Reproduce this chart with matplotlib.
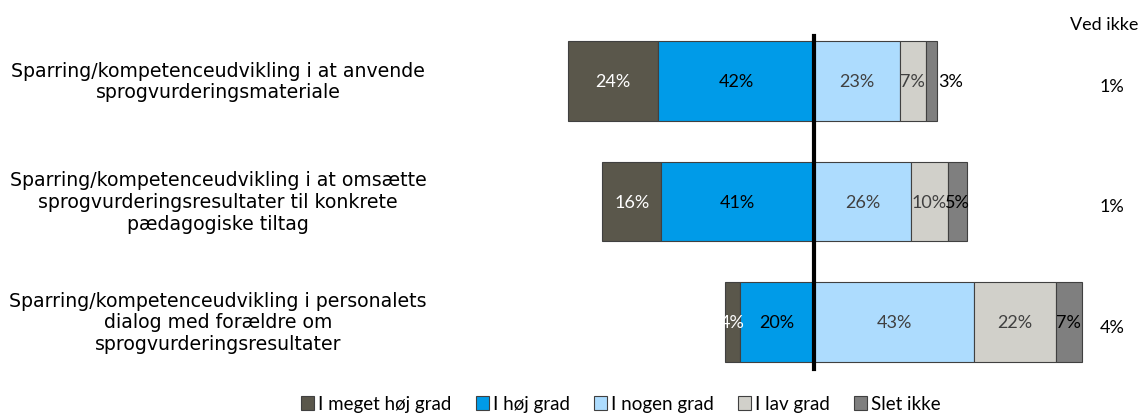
import numpy as np
import matplotlib
matplotlib.use("Agg")
import matplotlib.pyplot as plt
from matplotlib.patches import Patch

# data
categories = [
    "Sparring/kompetenceudvikling i at anvende\nsprogvurderingsmateriale",
    "Sparring/kompetenceudvikling i at omsætte\nsprogvurderingsresultater til konkrete\npædagogiske tiltag",
    "Sparring/kompetenceudvikling i personalets\ndialog med forældre om\nsprogvurderingsresultater",
]
meget_hoej = [24, 16, 4]
hoej = [42, 41, 20]
nogen = [23, 26, 43]
lav = [7, 10, 22]
slet_ikke = [3, 5, 7]
ved_ikke = [1, 1, 4]
series_names = ["I meget høj grad", "I høj grad", "I nogen grad", "I lav grad", "Slet ikke"]
colors = ["#5A574B", "#009BE8", "#ADDCFE", "#D1D0CA", "#7F7F7F"]
text_colors = ["white", "black", "#404040", "#404040", "black"]

W, H = 1143, 414
fig = plt.figure(figsize=(W / 100, H / 100), dpi=100)
ax = fig.add_axes([0, 0, 1, 1])

px = 3.72          # pixels per percent
cx = 814           # pixel of zero line
ax.set_xlim(-cx / px, (W - cx) / px)
row_h = 120.5
ax.set_ylim((H - 82) / row_h, -82 / row_h)
ax.axis("off")

y = np.arange(len(categories))
bh = 0.66
pct_font = dict(family="Lato", fontsize=13)

for i in range(len(categories)):
    # negative side
    left2 = -hoej[i]
    left1 = left2 - meget_hoej[i]
    segs = [(left1, meget_hoej[i]), (left2, hoej[i]), (0, nogen[i]),
            (nogen[i], lav[i]), (nogen[i] + lav[i], slet_ikke[i])]
    for k, (l, w) in enumerate(segs):
        ax.barh(y[i], w, left=l, height=bh, color=colors[k],
                edgecolor="#404040", linewidth=0.8, zorder=2)
        if k == 4 and w <= 3:
            ax.text(l + w + 0.4, y[i], f"{w}%", ha="left", va="center",
                    color="black", **pct_font)
        else:
            ax.text(l + w / 2, y[i], f"{w}%", ha="center", va="center",
                    color=text_colors[k], **pct_font)
    ax.text(1112 / W, 1 - (82 + row_h * i + 5) / H, f"{ved_ikke[i]}%",
            transform=fig.transFigure, ha="center", va="center",
            color="black", **pct_font)
    ax.text(218 / W, 1 - (82 + row_h * i) / H, categories[i],
            transform=fig.transFigure, ha="center", va="center",
            fontsize=13.6, family="DejaVu Sans", linespacing=1.18, color="black")

ax.plot([0, 0], [-0.37, 2.39], color="black", linewidth=3, zorder=3)
ax.text(1104 / W, 1 - 25 / H, "Ved ikke", transform=fig.transFigure,
        ha="center", va="center", color="black", **pct_font)

handles = [Patch(facecolor=c, edgecolor="#404040", linewidth=0.8) for c in colors]
fig.legend(handles, series_names, loc="center", bbox_to_anchor=(621 / W, 1 - 405 / H),
           ncol=5, frameon=False, handlelength=0.7, handleheight=0.7,
           handletextpad=0.2, columnspacing=1.3, prop=dict(family="Lato", size=13.5))

fig.savefig("out.png", dpi=100)
